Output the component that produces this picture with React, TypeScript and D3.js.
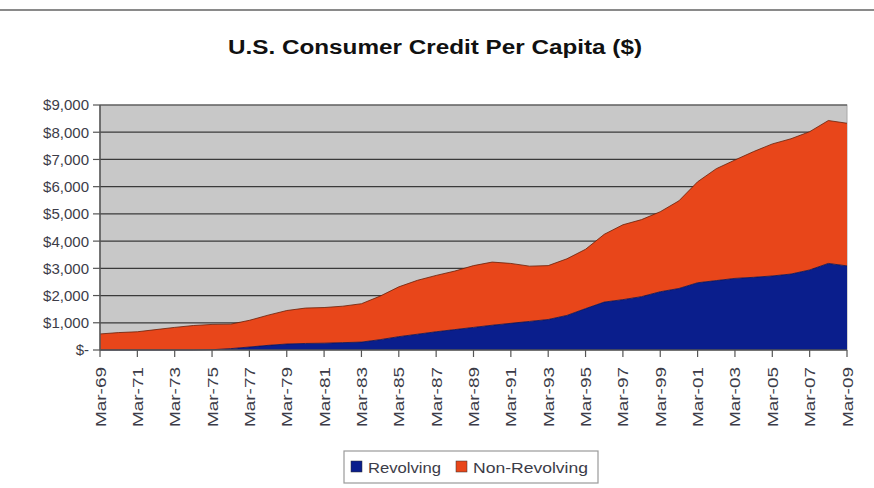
import React from "react";
import * as d3 from "d3";

const years: number[] = d3.range(1969, 2010);
const categories: string[] = years.map((y) => "Mar-" + String(y % 100).padStart(2, "0"));
const totalValues: number[] = [
  590, 640, 670, 750, 830, 900, 940, 950, 1090, 1280,
  1450, 1540, 1560, 1610, 1700, 1980, 2320, 2560, 2740, 2900,
  3100, 3230, 3180, 3080, 3100, 3350, 3700, 4250, 4600, 4790,
  5080, 5480, 6180, 6660, 6980, 7290, 7570, 7760, 8020, 8430,
  8330,
];
const revolvingValues: number[] = [
  0, 0, 0, 0, 0, 0, 10, 50, 110, 170,
  220, 240, 250, 270, 290, 380, 490, 580, 670, 750,
  830, 910, 980, 1050, 1120, 1270, 1520, 1760, 1850, 1960,
  2140, 2260, 2470, 2550, 2630, 2670, 2720, 2790, 2940, 3180,
  3090,
];
const nonRevolvingValues: number[] = totalValues.map((t, i) => t - revolvingValues[i]);
const yTicks: number[] = [0, 1000, 2000, 3000, 4000, 5000, 6000, 7000, 8000, 9000];
const seriesNames: string[] = ["Revolving", "Non-Revolving"];
const seriesColors: string[] = ["#0A1E8C", "#E8461A"];

export default function App() {
  const W = 874, H = 488;
  const left = 100, right = 847, top = 105, bottom = 350;
  const x = d3.scalePoint<string>().domain(categories).range([left, right]);
  const y = d3.scaleLinear().domain([0, 9000]).range([bottom, top]);

  const rows = categories.map((c, i) => ({ c, rev: revolvingValues[i], non: nonRevolvingValues[i] }));
  const stacked = d3.stack<any>().keys(["rev", "non"])(rows);
  const area = d3.area<any>()
    .x((d) => x(d.data.c) as number)
    .y0((d) => y(d[0]))
    .y1((d) => y(d[1]));
  const topLine = d3.line<any>()
    .x((d) => x(d.data.c) as number)
    .y((d) => y(d[1]));

  const fmt = (v: number) => (v === 0 ? "$-" : "$" + d3.format(",")(v));
  const font = "Arial, 'Liberation Sans', sans-serif";
  const txt = "#3c3c48";

  return (
    <svg width={W} height={H} style={{ position: "absolute", left: 0, top: 0, background: "#fff" }}>
      <line x1={0} x2={W} y1={10} y2={10} stroke="#8a8a8a" strokeWidth={2} />
      <text x={228} y={54} textLength={414} lengthAdjust="spacingAndGlyphs" fontFamily={font} fontWeight="bold" fontSize={20} fill="#111">
        U.S. Consumer Credit Per Capita ($)
      </text>
      <rect x={left} y={top} width={right - left} height={bottom - top} fill="#C8C8C8" stroke="#a8a8a8" strokeWidth={1} />
      {yTicks.slice(1).map((t) => (
        <line key={t} x1={left} x2={right} y1={y(t)} y2={y(t)} stroke="#3a3a3a" strokeWidth={1.2} />
      ))}
      {stacked.map((s, i) => (
        <path key={i} d={area(s) as string} fill={seriesColors[i]} />
      ))}
      {stacked.map((s, i) => (
        <path key={"l" + i} d={topLine(s) as string} fill="none" stroke={i === 0 ? "#061250" : "#6a2008"} strokeWidth={0.8} />
      ))}
      <line x1={left} x2={left} y1={top} y2={bottom} stroke="#555" strokeWidth={1.5} />
      <line x1={left} x2={right} y1={bottom} y2={bottom} stroke="#555" strokeWidth={1.5} />
      {yTicks.map((t) => (
        <g key={t}>
          <line x1={left - 7} x2={left} y1={y(t)} y2={y(t)} stroke="#555" strokeWidth={1.2} />
          <text x={left - 11} y={y(t)} dy="0.36em" textAnchor="end" fontFamily={font} fontSize={15} fill={txt}>
            {fmt(t)}
          </text>
        </g>
      ))}
      {categories.map((c, i) =>
        i % 2 === 0 ? (
          <g key={c}>
            <line x1={x(c)} x2={x(c)} y1={bottom} y2={bottom + 7} stroke="#555" strokeWidth={1.2} />
            <text
              transform={`translate(${(x(c) as number) + 5.5},${bottom + 17}) rotate(-90)`}
              textAnchor="end"
              textLength={60}
              lengthAdjust="spacingAndGlyphs"
              fontFamily={font}
              fontSize={15}
              fill={txt}
            >
              {c}
            </text>
          </g>
        ) : null
      )}
      <rect x={344} y={451} width={254} height={32} fill="#fff" stroke="#9a9a9a" strokeWidth={1.2} />
      {seriesNames.map((n, i) => {
        const lx = i === 0 ? 351 : 456;
        const tl = i === 0 ? 73 : 115;
        return (
          <g key={n}>
            <rect x={lx} y={461} width={11} height={11} fill={seriesColors[i]} stroke="#333" strokeWidth={0.5} />
            <text x={lx + 17} y={473} textLength={tl} lengthAdjust="spacingAndGlyphs" fontFamily={font} fontSize={15} fill={txt}>
              {n}
            </text>
          </g>
        );
      })}
    </svg>
  );
}
